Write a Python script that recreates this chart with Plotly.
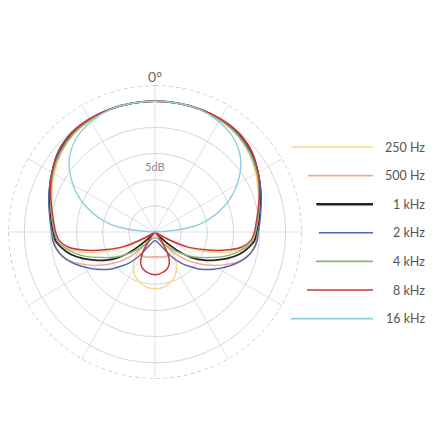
"""
Polar pickup pattern (dB rings, 5 dB per ring) with a hand-drawn style legend.
"""

import numpy as np
import plotly.graph_objects as go

# angles (degrees, clockwise from front) for one half of the pattern; the other half is mirrored
ANGLES = [0, 10, 20, 30, 40, 50, 60, 70, 80, 85, 90, 95, 100, 105, 110, 115, 120,
          125, 130, 135, 140, 145, 150, 155, 160, 165, 170, 175, 180]

# radius in ring units (ring 5 = 0 dB, ring 0 = -25 dB)
R_250 = [5.0, 5.0, 4.98, 4.93, 4.85, 4.68, 4.45, 4.2, 4.0, 3.95, 3.9, 3.78, 3.45, 2.95,
         2.25, 1.5, 0.8, 0.15, 0.0, 0.55, 1.05, 1.4, 1.65, 1.83, 1.95, 2.05, 2.12, 2.16, 2.17]
R_500 = [5.0, 5.0, 5.0, 4.97, 4.92, 4.75, 4.5, 4.25, 4.05, 3.97, 3.9, 3.88, 3.8, 3.62,
         3.35, 2.95, 2.55, 2.15, 1.75, 1.3, 0.85, 0.3, 1.0, 1.05, 1.02, 0.99, 0.97, 0.95, 0.95]
R_1K = [5.0, 5.0, 5.0, 4.98, 4.94, 4.8, 4.55, 4.3, 4.08, 3.98, 3.88, 3.82, 3.6, 3.32,
        2.95, 2.55, 2.15, 1.72, 1.05, 0.35, 0.0, 0.0, 0.0, 0.0, 0.0, 0.0, 0.0, 0.0, 0.0]
R_2K = [5.0, 5.0, 5.0, 4.97, 4.9, 4.76, 4.55, 4.32, 4.1, 4.02, 3.95, 3.92, 3.82, 3.65,
        3.4, 3.1, 2.8, 2.5, 2.2, 1.85, 1.55, 1.2, 0.85, 0.62, 0.5, 0.42, 0.37, 0.34, 0.33]
R_4K = [5.0, 5.0, 4.99, 4.95, 4.88, 4.72, 4.5, 4.25, 4.02, 3.93, 3.85, 3.75, 3.5, 3.15,
        2.75, 2.3, 1.95, 1.6, 1.25, 0.95, 0.7, 0.5, 0.38, 0.3, 0.26, 0.24, 0.23, 0.22, 0.22]
R_8K = [5.0, 5.0, 5.0, 5.0, 4.96, 4.82, 4.55, 4.25, 3.98, 3.88, 3.8, 3.68, 3.35, 2.7,
        1.95, 1.3, 0.4, 0.0, 0.0, 0.0, 0.05, 0.45, 1.0, 1.3, 1.45, 1.53, 1.58, 1.62, 1.63]
R_16K = [5.0, 5.0, 4.99, 4.88, 4.68, 4.28, 3.62, 2.79, 1.77, 0.85, 0.0, 0.0, 0.0, 0.0,
         0.0, 0.0, 0.0, 0.0, 0.0, 0.0, 0.0, 0.0, 0.0, 0.0, 0.0, 0.0, 0.0, 0.0, 0.0]

LABELS = ['250 Hz', '500 Hz', '1 kHz', '2 kHz', '4 kHz', '8 kHz', '16 kHz']
SERIES = [R_250, R_500, R_1K, R_2K, R_4K, R_8K, R_16K]
COLORS = ['#f3d88a', '#f2a98c', '#222222', '#5563ad', '#86b872', '#c9363d', '#8fcfdc']
WIDTHS = [1.4, 1.4, 1.7, 1.4, 1.4, 1.5, 1.4]

R_MAX = 5.6          # dashed outer circle
OFF = 8              # page body margin in the browser
CX, CY, R_PX = 155 - OFF, 232 - OFF, 147   # polar centre / radius in pixels
W = H = 440


def mirror(values):
    return list(values) + list(reversed(values[:-1]))


full_theta = ANGLES + [360 - a for a in reversed(ANGLES[:-1])]

fig = go.Figure()

for label, r, color, width in zip(LABELS, SERIES, COLORS, WIDTHS):
    fig.add_trace(go.Scatterpolar(
        r=mirror(r),
        theta=full_theta,
        mode='lines',
        name=label,
        line=dict(color=color, width=width, shape='spline', smoothing=0.9),
        hoverinfo='skip'
    ))

# dashed outer circle
circle_theta = np.linspace(0, 360, 181)
fig.add_trace(go.Scatterpolar(
    r=[R_MAX] * len(circle_theta),
    theta=circle_theta,
    mode='lines',
    line=dict(color='#c9c9c9', width=1, dash='4px,3px'),
    hoverinfo='skip'
))

fig.update_layout(
    width=W, height=H,
    margin=dict(l=0, r=0, t=0, b=0),
    paper_bgcolor='white',
    showlegend=False,
    font=dict(family='Lato, Open Sans, sans-serif'),
    polar=dict(
        domain=dict(x=[(CX - R_PX) / W, (CX + R_PX) / W],
                    y=[1 - (CY + R_PX) / H, 1 - (CY - R_PX) / H]),
        bgcolor='white',
        radialaxis=dict(
            range=[0, R_MAX + 0.02],
            tickvals=[1, 2, 3, 4, 5],
            showticklabels=False,
            ticks='',
            showline=False,
            gridcolor='#d6d6d6',
            gridwidth=1,
        ),
        angularaxis=dict(
            rotation=90,
            direction='clockwise',
            tickvals=list(range(0, 360, 30)),
            ticktext=['0°'] + [''] * 11,
            ticks='',
            showline=False,
            gridcolor='#e2e2e2',
            gridwidth=1,
            tickfont=dict(size=14, color='#666666'),
        ),
    ),
)

fig.add_annotation(
    x=CX / W, y=1 - (166 - OFF) / H, xref='paper', yref='paper',
    text='5dB', showarrow=False,
    font=dict(size=11, color='#8a8a8a')
)

# legend: line samples start just outside the dashed circle, labels right aligned
for i, (label, color) in enumerate(zip(LABELS, COLORS)):
    y_px = 147 - OFF + i * 28.6
    dy = abs(y_px - CY)
    x0 = CX + np.sqrt(max(R_PX ** 2 - dy ** 2, 0)) + 17
    fig.add_shape(
        type='line', xref='paper', yref='paper',
        x0=x0 / W, x1=(373 - OFF) / W, y0=1 - y_px / H, y1=1 - y_px / H,
        line=dict(color=color, width=2.4 if label == '1 kHz' else 1.6)
    )
    fig.add_annotation(
        x=(427 - OFF) / W, y=1 - y_px / H, xref='paper', yref='paper',
        text=label, showarrow=False, xanchor='right', yanchor='middle',
        font=dict(size=12.5, color='#555555')
    )

fig.write_html("out.html")
